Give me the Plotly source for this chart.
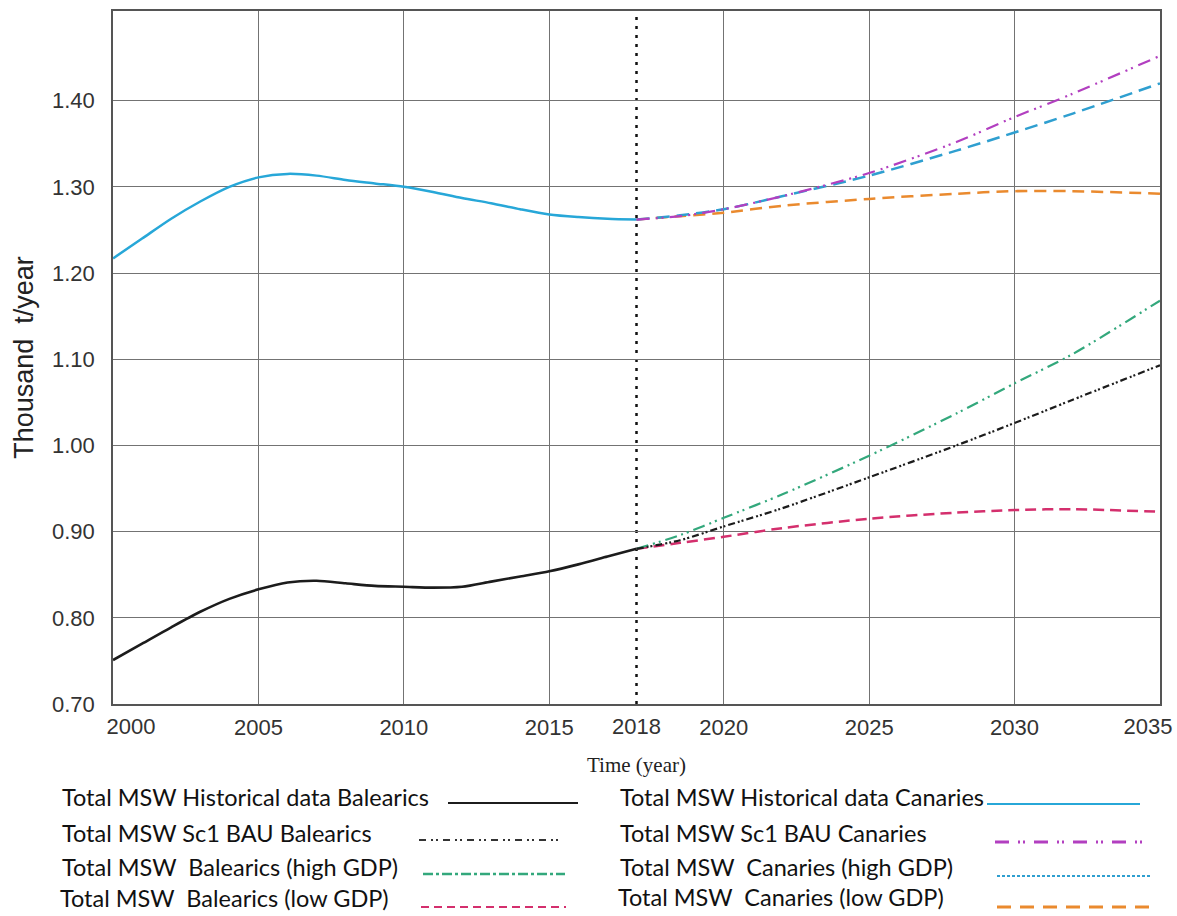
import plotly.graph_objects as go

# ---- data (thousand t/year) ----
HIST_YEARS = list(range(2000, 2019))
HIST_BALEARICS = [0.751, 0.770, 0.789, 0.807, 0.822, 0.833, 0.841, 0.843, 0.840, 0.837,
                  0.836, 0.835, 0.836, 0.842, 0.848, 0.854, 0.862, 0.871, 0.880]
HIST_CANARIES = [1.217, 1.240, 1.263, 1.283, 1.300, 1.311, 1.315, 1.313, 1.308, 1.304,
                 1.300, 1.294, 1.287, 1.281, 1.274, 1.268, 1.265, 1.263, 1.262]

PROJ_YEARS = [2018, 2019, 2020, 2022, 2025, 2028, 2030, 2032, 2035]
BAU_BALEARICS = [0.880, 0.890, 0.906, 0.927, 0.963, 1.000, 1.026, 1.053, 1.093]
HIGH_BALEARICS = [0.880, 0.896, 0.916, 0.943, 0.988, 1.037, 1.072, 1.106, 1.168]
LOW_BALEARICS = [0.880, 0.887, 0.894, 0.904, 0.915, 0.922, 0.925, 0.926, 0.923]
BAU_CANARIES = [1.262, 1.266, 1.274, 1.289, 1.316, 1.352, 1.381, 1.408, 1.452]
HIGH_CANARIES = [1.262, 1.267, 1.274, 1.289, 1.313, 1.342, 1.363, 1.385, 1.420]
LOW_CANARIES = [1.262, 1.266, 1.270, 1.278, 1.286, 1.292, 1.295, 1.295, 1.292]

FIRST_YEAR, SPLIT_YEAR, LAST_YEAR = 2000, 2018, 2035
X_GRID_YEARS = [2000, 2005, 2010, 2015, 2020, 2025, 2030, 2035]
Y_TICKS = [0.70, 0.80, 0.90, 1.00, 1.10, 1.20, 1.30, 1.40]

LEGEND_LEFT = [
    "Total MSW Historical data Balearics",
    "Total MSW Sc1 BAU Balearics",
    "Total MSW  Balearics (high GDP)",
    "Total MSW  Balearics (low GDP)",
]
LEGEND_RIGHT = [
    "Total MSW Historical data Canaries",
    "Total MSW Sc1 BAU Canaries",
    "Total MSW  Canaries (high GDP)",
    "Total MSW  Canaries (low GDP)",
]


def axis_pos(year):
    """Time axis: the 2018-2020 interval is drawn 1.5x wider than other years."""
    if year <= SPLIT_YEAR:
        return year
    if year <= 2020:
        return SPLIT_YEAR + 1.5 * (year - SPLIT_YEAR)
    return year + 1


def pos(years):
    return [axis_pos(y) for y in years]


# ---- styles ----
C_BLACK = "#1c1c1c"
C_CYAN = "#27a7d8"
C_MAGENTA = "#b23fc0"
C_BLUE = "#2f9fd0"
C_ORANGE = "#ea8a2e"
C_GREEN = "#33a87c"
C_CRIMSON = "#d42f6d"

fig = go.Figure()


def add_line(x, y, color, width, dash="solid"):
    fig.add_trace(go.Scatter(
        x=pos(x), y=y, mode="lines",
        line=dict(color=color, width=width, dash=dash, shape="spline", smoothing=0.8),
        hoverinfo="skip",
    ))


add_line(HIST_YEARS, HIST_BALEARICS, C_BLACK, 2.6)
add_line(HIST_YEARS, HIST_CANARIES, C_CYAN, 2.5)
add_line(PROJ_YEARS, LOW_BALEARICS, C_CRIMSON, 2.5, "11px,6px")
add_line(PROJ_YEARS, HIGH_BALEARICS, C_GREEN, 2.2, "12px,5px,2px,4px,2px,5px")
add_line(PROJ_YEARS, BAU_BALEARICS, C_BLACK, 2.2, "7px,3px,2px,2px,2px,3px")
add_line(PROJ_YEARS, LOW_CANARIES, C_ORANGE, 2.5, "12px,7px")
add_line(PROJ_YEARS, HIGH_CANARIES, C_BLUE, 2.5, "13px,7px")
add_line(PROJ_YEARS, BAU_CANARIES, C_MAGENTA, 2.2, "13px,6px,2px,4px,2px,6px")

X_RANGE = [axis_pos(FIRST_YEAR) - 0.001, axis_pos(LAST_YEAR) + 0.001]
TICK_FONT = dict(family="Liberation Sans, Arial, sans-serif", size=22, color="#333")
GRID = "#737373"
FRAME = "#555555"

# labels-only time axes: the 2018 split label and the two end labels nudged inside the frame
label_axes = {
    "xaxis2": (SPLIT_YEAR, 0),
    "xaxis3": (FIRST_YEAR, 18),
    "xaxis4": (LAST_YEAR, -12),
}
for name in label_axes:
    fig.add_trace(go.Scatter(x=[], y=[], xaxis="x" + name[5:], mode="lines", hoverinfo="skip"))

inner_years = [y for y in X_GRID_YEARS if y not in (FIRST_YEAR, LAST_YEAR)]

layout_axes = dict(
    xaxis=dict(
        range=X_RANGE, automargin=False,
        tickvals=pos(X_GRID_YEARS),
        ticktext=[str(y) if y in inner_years else "" for y in X_GRID_YEARS],
        showgrid=True, gridcolor=GRID, gridwidth=1, zeroline=False,
        showline=True, linecolor=FRAME, linewidth=1.5, mirror=True,
        ticks="outside", ticklen=3, tickcolor="rgba(0,0,0,0)",
        tickfont=TICK_FONT,
        title=dict(text="Time (year)", standoff=18,
                   font=dict(family="Liberation Serif, Times New Roman, serif", size=21, color="#222")),
    ),
    yaxis=dict(
        range=[0.70, 1.504], automargin=False,
        tickvals=Y_TICKS, ticktext=[f"{v:.2f}" for v in Y_TICKS],
        showgrid=True, gridcolor=GRID, gridwidth=1, zeroline=False,
        showline=True, linecolor=FRAME, linewidth=1.5, mirror=True,
        ticks="outside", ticklen=12, tickcolor="rgba(0,0,0,0)",
        tickfont=TICK_FONT,
        title=dict(text="Thousand\u00a0 t/year", standoff=11,
                   font=dict(family="Liberation Sans, Arial, sans-serif", size=27, color="#222")),
    ),
)
for name, (year, shift) in label_axes.items():
    layout_axes[name] = dict(
        overlaying="x", anchor="y", side="bottom",
        range=X_RANGE, automargin=False,
        tickvals=[axis_pos(year)], ticktext=[str(year)],
        showgrid=False, zeroline=False, showline=False,
        ticks="outside", ticklen=3, tickcolor="rgba(0,0,0,0)",
        ticklabelshift=shift, ticklabeloverflow="allow",
        tickfont=TICK_FONT,
    )

fig.update_layout(
    width=1177, height=916,
    margin=dict(l=113, r=17, t=11, b=212, autoexpand=False),
    plot_bgcolor="white", paper_bgcolor="white",
    showlegend=False,
    **layout_axes,
)

# dotted marker separating historical data from projections
fig.add_shape(type="line", xref="x", yref="paper",
              x0=axis_pos(SPLIT_YEAR), x1=axis_pos(SPLIT_YEAR), y0=0, y1=1,
              line=dict(color="#111111", width=2.5, dash="3px,6px"), layer="below")

# ---- legend drawn below the plot: label text followed by a line sample ----
PLOT_L, PLOT_T, PLOT_W, PLOT_H = 113, 11, 1047, 693


def to_paper(px, py):
    return (px - PLOT_L) / PLOT_W, 1 - (py - PLOT_T) / PLOT_H


LEGEND_FONT = dict(family="Lato, Open Sans, sans-serif", size=23.5, color="#111")

left_rows = [
    # text x, text y, sample x0, x1, y, color, width, dash
    (60, 797, 448, 578, 803, C_BLACK, 2.2, "solid"),
    (60, 833, 419, 563, 840, "#333333", 2.0, "7px,5px,2px,3px,2px,5px"),
    (60, 867, 423, 565, 874, C_GREEN, 2.5, "10px,3px,3px,3px"),
    (58, 898, 421, 566, 907, C_CRIMSON, 2.0, "8px,5px"),
]
right_rows = [
    (618, 797, 987, 1140, 804, C_CYAN, 2.0, "solid"),
    (618, 833, 995, 1144, 842, C_MAGENTA, 3.0, "14px,9px,2px,3px,2px,9px"),
    (618, 867, 997, 1151, 876, C_BLUE, 2.0, "3px,2px"),
    (616, 897, 997, 1151, 907, C_ORANGE, 3.0, "14px,9px"),
]

for labels, rows in ((LEGEND_LEFT, left_rows), (LEGEND_RIGHT, right_rows)):
    for label, (tx, ty, x0, x1, ly, color, width, dash) in zip(labels, rows):
        ax, ay = to_paper(tx, ty)
        fig.add_annotation(x=ax, y=ay, xref="paper", yref="paper", text=label.replace("  ", "\u00a0 "),
                           showarrow=False, xanchor="left", yanchor="middle", font=LEGEND_FONT)
        sx0, sy = to_paper(x0, ly)
        sx1, _ = to_paper(x1, ly)
        fig.add_shape(type="line", xref="paper", yref="paper", x0=sx0, x1=sx1, y0=sy, y1=sy,
                      line=dict(color=color, width=width, dash=dash))

fig.write_html("out.html")
